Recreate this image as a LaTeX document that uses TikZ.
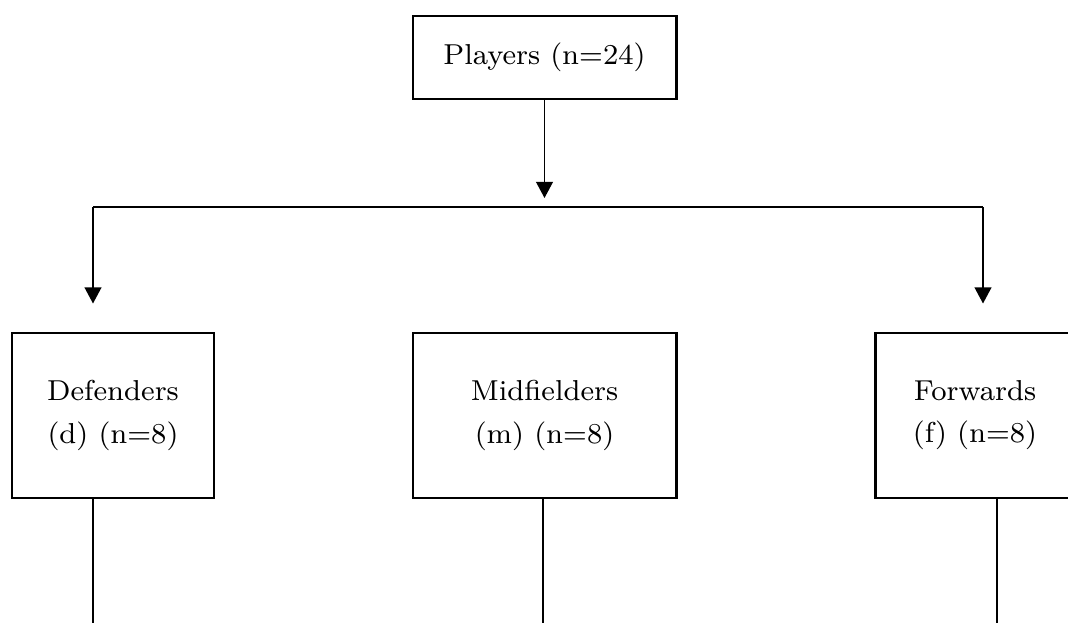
\documentclass[tikz,border=0pt]{standalone}
\usepackage{tikz}
\usetikzlibrary{arrows.meta}

\begin{document}
\begin{tikzpicture}[
    box/.style={draw, line width=0.85pt, minimum width=#1, minimum height=1.65cm, align=center, inner sep=0pt, font=\fontsize{8.2}{12}\selectfont},
    link/.style={line width=0.42pt},
    arr/.style={link, -{Triangle[width=4.8pt, length=4.6pt]}}
]
    \useasboundingbox (0,0) rectangle (10.68,6.23);

    % Boxes
    \node[box=2.63cm, minimum height=0.83cm] (players) at (5.445,5.655) {Players (n=24)};
    \node[box=2.02cm] (def) at (1.13,2.075) {Defenders\\(d) (n=8)};
    \node[box=2.63cm] (mid) at (5.445,2.075) {Midfielders\\(m) (n=8)};
    \node[box=2.0cm] (fwd) at (9.75,2.075) {Forwards\\(f) (n=8)};

    % Branch points
    \coordinate (dturn) at (0.93,4.16);
    \coordinate (fturn) at (9.83,4.16);
    \coordinate (ptip) at (5.445,4.25);

    % Arrows
    \draw[arr] (players.south) -- (ptip);
    \draw[link] (dturn) -- (fturn);
    \draw[arr, shorten >=0.28cm] (dturn) -- (dturn |- def.north);
    \draw[arr, shorten >=0.28cm] (fturn) -- (fturn |- fwd.north);

    % Lines below the boxes
    \foreach \b/\x in {def/0.93, mid/5.43, fwd/9.97} {
        \coordinate (\b-end) at (\x,0);
        \draw[link] (\b-end |- \b.south) -- (\b-end);
    }
\end{tikzpicture}
\end{document}
